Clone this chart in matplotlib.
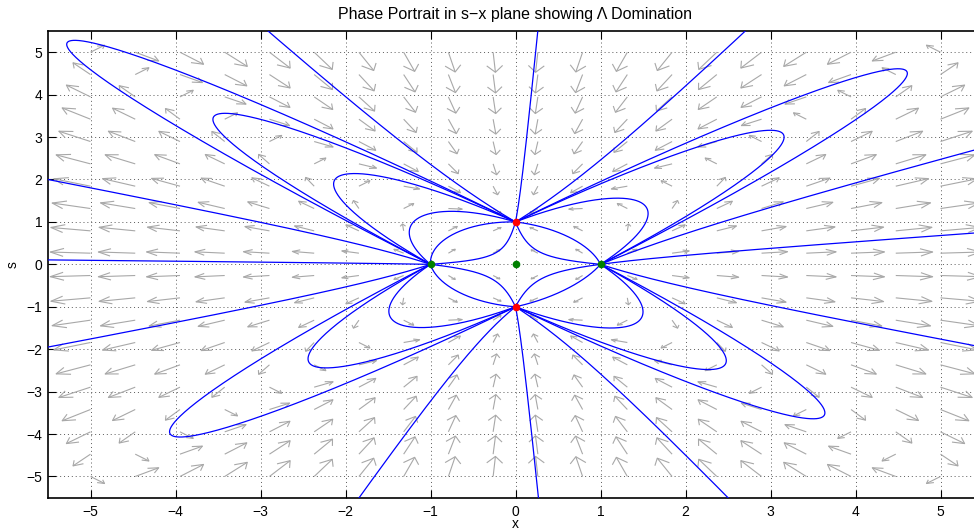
import numpy as np
import matplotlib
matplotlib.use("Agg")
import matplotlib.pyplot as plt
from matplotlib.collections import LineCollection

plt.rcParams['font.family'] = ['Liberation Sans', 'DejaVu Sans']

# ------------------------------------------------------------
# system:  dx/dt = x (x^2 - s^2 + CX),  ds/dt = s (x^2 - s^2 + CS)
# ------------------------------------------------------------
CX = -1.0
CS = 1.0

# fixed points
fixed_x = [-1.0, 1.0, 0.0, 0.0, 0.0]
fixed_s = [0.0, 0.0, 1.0, -1.0, 0.0]
fixed_colors = ['green', 'green', 'red', 'red', 'green']

# one point (x, s)
seed_x = [-5.28, -3.56, -2.14, -1.25, -0.76, -0.30, -5.50, -5.50, -2.10, 0.115,
          4.61, 3.16, 1.56, 0.64, 0.25, 1.46, 5.41, 5.41,
          -4.07, -2.44, -1.49, -0.76, -0.32, -5.50, -1.84,
          3.64, 2.48, 1.50, 0.71, 0.27, 5.41, 0.27, 2.50]
seed_s = [5.18, 3.42, 1.90, 0.75, 0.68, 0.21, 0.105, 2.00, 4.12, 2.70,
          4.50, 3.00, 1.20, 0.63, 0.33, 3.24, 2.70, 0.74,
          -3.95, -2.20, -1.10, -0.55, -0.30, -1.95, -5.50,
          -3.50, -2.27, -1.10, -0.46, -0.38, -1.92, -5.50, -5.50]

# quiver grid
GRID_MIN, GRID_MAX, GRID_N = -5.0, 5.0, 20
LEN_POWER = 0.25   # arrow length ~ |F|^0.25

title = "Phase Portrait in s\u2212x plane showing \u039b Domination"


def field(x, s):
    r = x * x - s * s
    return x * (r + CX), s * (r + CS)


def trace(x0, s0, sign, h=0.005, nmax=9000):
    def f(x, s):
        u, v = field(x, s)
        n = (u * u + v * v) ** 0.5 + 1e-12
        return sign * u / n, sign * v / n

    xs, ss = [x0], [s0]
    x, s = x0, s0
    for _ in range(nmax):
        k1 = f(x, s)
        k2 = f(x + 0.5 * h * k1[0], s + 0.5 * h * k1[1])
        k3 = f(x + 0.5 * h * k2[0], s + 0.5 * h * k2[1])
        k4 = f(x + h * k3[0], s + h * k3[1])
        x += h / 6 * (k1[0] + 2 * k2[0] + 2 * k3[0] + k4[0])
        s += h / 6 * (k1[1] + 2 * k2[1] + 2 * k3[1] + k4[1])
        xs.append(x)
        ss.append(s)
        if abs(x) > 6.0 or abs(s) > 6.0:
            break
        if min((x - fx) ** 2 + (s - fs) ** 2 for fx, fs in zip(fixed_x, fixed_s)) < (2 * h) ** 2:
            break
    return xs, ss


fig = plt.figure(figsize=(9.74, 5.31), dpi=100)
ax = fig.add_axes([48 / 974, 33.3 / 531, 935 / 974, 466.7 / 531])

# --- direction field (MATLAB style line arrows) ---
g = np.linspace(GRID_MIN, GRID_MAX, GRID_N)
X, S = np.meshgrid(g, g)
U, V = field(X, S)
mag = np.hypot(U, V)
L = mag ** LEN_POWER
k = 0.9 * (g[1] - g[0]) / L.max()
u = U / mag * L * k
v = V / mag * L * k
alpha, beta = 0.33, 0.6
tx, ty = X + u, S + v
h1x, h1y = tx - alpha * (u + beta * v), ty - alpha * (v - beta * u)
h2x, h2y = tx - alpha * (u - beta * v), ty - alpha * (v + beta * u)
segs = []
for i in range(X.size):
    segs.append([(X.flat[i], S.flat[i]), (tx.flat[i], ty.flat[i])])
    segs.append([(h1x.flat[i], h1y.flat[i]), (tx.flat[i], ty.flat[i]), (h2x.flat[i], h2y.flat[i])])
ax.add_collection(LineCollection(segs, colors='0.66', linewidths=0.8, zorder=2))

# --- trajectories ---
for x0, s0 in zip(seed_x, seed_s):
    xb, sb = trace(x0, s0, -1)
    xf, sf = trace(x0, s0, 1)
    xx = xb[::-1] + xf[1:]
    yy = sb[::-1] + sf[1:]
    ax.plot(xx, yy, color='blue', linewidth=0.9, zorder=3)

# --- fixed points ---
for fx, fs, c in zip(fixed_x, fixed_s, fixed_colors):
    ax.plot(fx, fs, 'o', color=c, markersize=5.5, markeredgewidth=0, zorder=5)

ax.set_xlim(-5.5, 5.5)
ax.set_ylim(-5.5, 5.5)
ax.set_xticks(range(-5, 6))
ax.set_yticks(range(-5, 6))
ax.grid(True, color='0.35', linestyle=(0, (1, 3)), linewidth=0.7, zorder=1)
ax.set_axisbelow(True)
ax.tick_params(direction='in', length=6, width=0.8, top=True, right=False,
               labelsize=10, pad=5)
ax.tick_params(axis='y', pad=4)
for side in ['left', 'bottom', 'top']:
    ax.spines[side].set_linewidth(1.2)
ax.spines['right'].set_visible(False)

ax.set_title(title, fontsize=11.5, pad=9)
ax.set_xlabel("x", fontsize=10, labelpad=-1)
ax.set_ylabel("s", fontsize=10, labelpad=5)

fig.savefig("out.png", dpi=100)
